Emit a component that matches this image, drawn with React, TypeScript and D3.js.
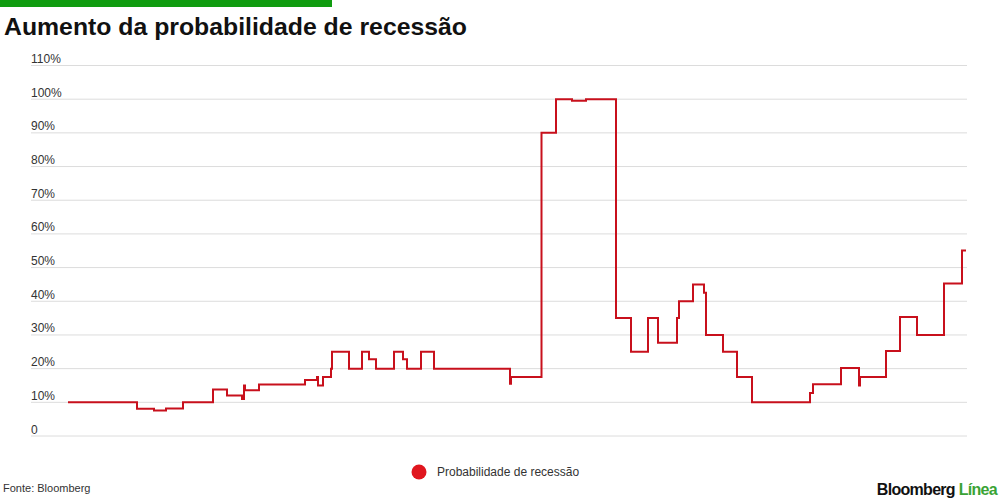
import React from "react";
import * as d3 from "d3";

// step start positions (arbitrary time units along the x axis) and probability (%)
const stepTime = [
  0, 69, 86, 98, 115, 145, 159, 174, 176, 177, 191, 237, 249, 250, 255, 263, 264,
  281, 294, 301, 308, 326, 335, 339, 353, 366, 442, 443, 473.5, 488, 504, 518,
  548, 563, 580, 590, 609, 611, 625, 636, 638, 655, 669, 684, 742, 745, 773, 791,
  792, 818, 832, 849, 876, 894, 898,
];
const stepProb = [
  10, 8.1, 7.6, 8.2, 10, 13.8, 12, 11, 15, 13.6, 15.3, 16.6, 17.5, 15, 17.5, 20, 25,
  20, 25, 22.8, 20, 25, 22.8, 20, 25, 20, 15.5, 17.5, 90, 100, 99.5, 100,
  35, 25, 35, 27.7, 35, 40, 45, 42.5, 30, 25, 17.5, 10, 12.8, 15.4, 20.2, 15,
  17.5, 25.2, 35.3, 30, 45.3, 55.1, 55.1,
];
const yTicks = [0, 10, 20, 30, 40, 50, 60, 70, 80, 90, 100, 110];

const W = 1000;
const H = 500;

export default function App() {
  const x = d3.scaleLinear().domain([0, 898]).range([68, 966]);
  const y = d3.scaleLinear().domain([0, 110]).range([436, 65.5]);

  const pts = stepTime.map((t, i) => [t, stepProb[i]] as [number, number]);
  const line = d3
    .line<[number, number]>()
    .x((d) => x(d[0]))
    .y((d) => y(d[1]))
    .curve(d3.curveStepAfter);

  const font = "'Liberation Sans', Arial, sans-serif";

  return (
    <svg
      width={W}
      height={H}
      style={{ position: "absolute", left: 0, top: 0, background: "#fff" }}
    >
      <rect x={0} y={0} width={332} height={7} fill="#109c10" />
      <text
        x={4}
        y={35}
        fontFamily={font}
        fontWeight={700}
        fontSize={24}
        fill="#111"
        textLength={463}
        lengthAdjust="spacingAndGlyphs"
      >
        Aumento da probabilidade de recessão
      </text>

      {/* grid + y labels */}
      {yTicks.map((v) => (
        <g key={v}>
          <line
            x1={31}
            x2={967}
            y1={y(v)}
            y2={y(v)}
            stroke="#dcdcdc"
            strokeWidth={1}
          />
          <text
            x={31}
            y={y(v) - 2.5}
            fontFamily={font}
            fontSize={12}
            fill="#333"
          >
            {v === 0 ? "0" : `${v}%`}
          </text>
        </g>
      ))}

      <path
        d={line(pts) || ""}
        fill="none"
        stroke="#c8101c"
        strokeWidth={2}
        strokeLinejoin="miter"
      />

      {/* legend */}
      <circle cx={419} cy={472} r={7.5} fill="#e0161e" />
      <text x={437} y={476} fontFamily={font} fontSize={12} fill="#333">
        Probabilidade de recessão
      </text>

      <text x={3} y={492} fontFamily={font} fontSize={11} fill="#333">
        Fonte: Bloomberg
      </text>

      <text
        x={997}
        y={495}
        textAnchor="end"
        fontFamily={font}
        fontWeight={700}
        fontSize={16}
        letterSpacing={-0.7}
      >
        <tspan fill="#111">Bloomberg </tspan>
        <tspan fill="#3aa335">Línea</tspan>
      </text>
    </svg>
  );
}
